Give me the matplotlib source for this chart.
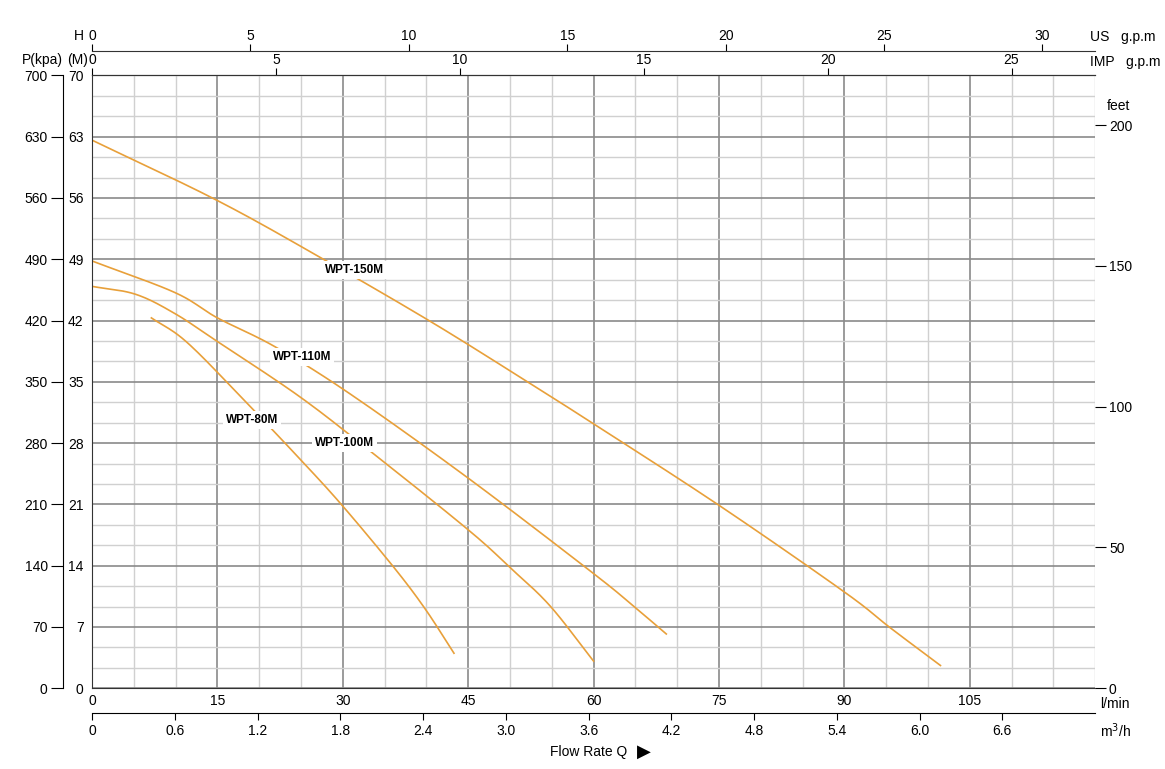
import numpy as np
import matplotlib.pyplot as plt
from matplotlib.ticker import MultipleLocator

plt.rcParams['font.family'] = ['Liberation Sans', 'DejaVu Sans']

# pump curves: flow (l/min) vs head (m)
q_150 = [0, 15, 27.5, 40.3, 51.1, 60, 75, 90, 95.5, 101.5]
h_150 = [62.6, 55.7, 49.1, 42.0, 35.6, 30.2, 20.9, 11.0, 6.9, 2.6]
q_110 = [0, 9.9, 15, 21.9, 30.9, 45, 60, 65, 68.7]
h_110 = [48.8, 45.2, 42.3, 39.0, 33.6, 24.0, 13.1, 9.2, 6.2]
q_100 = [0, 5.2, 9.9, 15, 24.7, 33.0, 45, 50.1, 54.8, 60]
h_100 = [45.9, 45.0, 42.8, 39.6, 33.4, 27.3, 18.1, 13.7, 9.4, 3.1]
q_80 = [7.1, 11.25, 17.7, 25.05, 30, 36.2, 39.9, 43.3]
h_80 = [42.3, 39.6, 33.4, 26.0, 20.8, 13.7, 9.0, 4.0]

curves = [("WPT-150M", q_150, h_150, (31.4, 47.8)),
          ("WPT-110M", q_110, h_110, (25.1, 37.8)),
          ("WPT-100M", q_100, h_100, (30.2, 28.0)),
          ("WPT-80M", q_80, h_80, (19.1, 30.6))]


def smooth(x, y, n=20):
    # catmull-rom through the read points, just for drawing
    p = np.column_stack([x, y]).astype(float)
    p = np.vstack([2 * p[0] - p[1], p, 2 * p[-1] - p[-2]])
    out = []
    t = np.linspace(0, 1, n, endpoint=False)[:, None]
    for i in range(1, len(p) - 2):
        p0, p1, p2, p3 = p[i - 1], p[i], p[i + 1], p[i + 2]
        out.append(0.5 * (2 * p1 + (-p0 + p2) * t + (2 * p0 - 5 * p1 + 4 * p2 - p3) * t ** 2
                          + (-p0 + 3 * p1 - 3 * p2 + p3) * t ** 3))
    out.append(p[-2][None, :])
    out = np.vstack(out)
    return out[:, 0], out[:, 1]


orange = "#E8A03A"
fig = plt.figure(figsize=(11.65, 7.69), dpi=100)
ax = fig.add_axes([0.079, 0.105, 0.861, 0.797])
ax.set_xlim(0, 120)
ax.set_ylim(0, 70)

# grid
ax.xaxis.set_minor_locator(MultipleLocator(5))
ax.yaxis.set_minor_locator(MultipleLocator(7 / 3))
ax.grid(which="major", color="#8a8a8a", lw=1.2)
ax.grid(which="minor", color="#d0d0d0", lw=1.0)
ax.set_axisbelow(True)
ax.tick_params(which="minor", length=0)

for name, q, h, pos in curves:
    xs, ys = smooth(q, h)
    ax.plot(xs, ys, color=orange, lw=1.2)
    ax.text(pos[0], pos[1], name, fontsize=8.5, fontweight="bold", ha="center", va="center",
            bbox=dict(facecolor="white", edgecolor="none", pad=2))

ax.spines["right"].set_visible(False)
for s in ["left", "top", "bottom"]:
    ax.spines[s].set_color("#333333")

# primary axes: l/min bottom, H (m) left
ax.set_xticks(np.arange(0, 106, 15))
ax.set_yticks(np.arange(0, 71, 7))
ax.tick_params(axis="x", which="major", length=0, labelsize=10, pad=4)
ax.tick_params(axis="y", which="major", length=0, labelsize=10, pad=6)
ax.text(1.005, -0.025, "l/min", transform=ax.transAxes, fontsize=10, va="center")

# top IMP gpm
imp = ax.secondary_xaxis("top", functions=(lambda x: x / 4.4, lambda x: x * 4.4))
imp.set_xticks(np.arange(0, 26, 5))
imp.tick_params(labelsize=10, length=5, direction="out", pad=1)
ax.text(0.995, 1.022, "IMP   g.p.m", transform=ax.transAxes, fontsize=10, va="center")

# top US gpm
us = ax.secondary_xaxis(1.04, functions=(lambda x: x / 3.79, lambda x: x * 3.79))
us.set_xticks(np.arange(0, 31, 5))
us.tick_params(labelsize=10, length=5, direction="out", pad=1)
us.spines["top"].set_color("#333333")
ax.text(0.995, 1.062, "US   g.p.m", transform=ax.transAxes, fontsize=10, va="center")

# bottom m3/h
m3 = ax.secondary_xaxis(-0.04, functions=(lambda x: x / 16.5, lambda x: x * 16.5))
m3.set_xticks(np.round(np.arange(0, 6.7, 0.6), 1))
m3.set_xticklabels(["0"] + [f"{v:.1f}" for v in np.arange(0.6, 6.7, 0.6)])
m3.tick_params(labelsize=10, length=5, direction="out", pad=3)
ax.text(1.005, -0.07, "m$^3$/h", transform=ax.transAxes, fontsize=10, va="center")

# left P(kpa)
kpa = ax.secondary_yaxis(-0.029, functions=(lambda y: y * 10, lambda y: y / 10))
kpa.set_yticks(np.arange(0, 701, 70))
kpa.tick_params(labelsize=10, length=9, pad=2)
fig.text(0.058, 0.922, "(M)", fontsize=10, va="center")
fig.text(0.063, 0.953, "H", fontsize=10, va="center")
fig.text(0.054, 0.922, "P(kpa)", fontsize=10, va="center", ha="right")

# right feet
ft = ax.secondary_yaxis("right", functions=(lambda y: y * 3.11, lambda y: y / 3.11))
ft.set_yticks(np.arange(0, 201, 50))
ft.spines["right"].set_visible(False)
ft.tick_params(labelsize=10, length=8, pad=2)
ax.text(1.012, 0.95, "feet", transform=ax.transAxes, fontsize=10, va="center")

# flow rate caption
fig.text(0.538, 0.022, "Flow Rate Q", fontsize=10, ha="right", va="center")
fig.text(0.547, 0.022, "\u25B6", fontsize=13, ha="left", va="center")

fig.savefig("out.png", dpi=100)
